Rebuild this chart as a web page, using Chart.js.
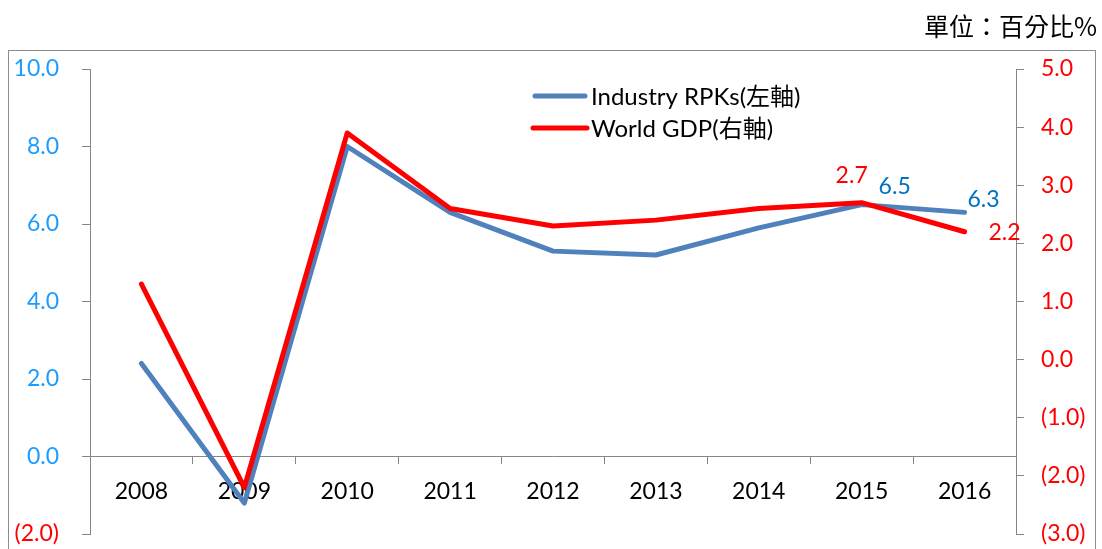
<!DOCTYPE html>
<html>
<head>
<meta charset="utf-8">
<script src="https://cdn.jsdelivr.net/npm/chart.js@4.4.1/dist/chart.umd.min.js"></script>
<style>
  html, body { margin: 0; padding: 0; background: #fff; }
  #wrap { position: relative; width: 1102px; height: 549px; overflow: hidden; }
  #chart { position: absolute; left: 0; top: 0; }
  #unit { position: absolute; right: 5px; top: 13px; font: 25px 'Noto Sans CJK TC', sans-serif; line-height: 1; color: #000; }
</style>
</head>
<body>
<div id="wrap">
  <canvas id="chart" width="1102" height="549"></canvas>
  <div id="unit">單位：百分比%</div>
</div>
<script>
const years = ['2008', '2009', '2010', '2011', '2012', '2013', '2014', '2015', '2016'];
const rpkValues = [2.4, -1.2, 8.0, 6.3, 5.3, 5.2, 5.9, 6.5, 6.3];
const gdpValues = [1.3, -2.2, 3.9, 2.6, 2.3, 2.4, 2.6, 2.7, 2.2];
const seriesNames = ['Industry RPKs(左軸)', 'World GDP(右軸)'];
const labelledYears = ['2015', '2016'];

const BLUE = '#4f81bd';
const RED = '#ff0000';
const AXIS = '#868686';
const FONT = 'Lato, "Noto Sans CJK TC", sans-serif';

const fmt = (v) => (v < 0 ? `(${Math.abs(v).toFixed(1)})` : v.toFixed(1));

// value labels: offset from the point, per series and per labelled year
const labelStyle = [
  { color: '#0070c0', offsets: [[33, -18], [19, -13]] },
  { color: RED, offsets: [[-10, -27], [40, 1]] }
];

// fixed axis sizes so the plot box sits where it should
const fixWidth = (w) => (s) => {
  s.width = w;
  s.paddingTop = 0;
  s.paddingBottom = 0;
};

const frame = {
  id: 'frame',
  beforeDraw(chart) {
    const { ctx } = chart;
    ctx.save();
    ctx.strokeStyle = '#8c8c8c';
    ctx.lineWidth = 1;
    ctx.strokeRect(8.5, 50.5, 1087, 600);
    ctx.restore();
  }
};

const legendBox = {
  id: 'legendBox',
  afterDraw(chart) {
    const { ctx } = chart;
    const rows = [
      { ds: chart.data.datasets.find((d) => d.label === seriesNames[0]), y: 96, x0: 535, x1: 585 },
      { ds: chart.data.datasets.find((d) => d.label === seriesNames[1]), y: 128, x0: 533, x1: 587 }
    ];
    ctx.save();
    ctx.font = `24px ${FONT}`;
    ctx.textBaseline = 'middle';
    ctx.fillStyle = '#000';
    rows.forEach((r) => {
      ctx.strokeStyle = r.ds.borderColor;
      ctx.lineWidth = r.ds.borderWidth;
      ctx.lineCap = 'round';
      ctx.beginPath();
      ctx.moveTo(r.x0, r.y);
      ctx.lineTo(r.x1, r.y);
      ctx.stroke();
      ctx.fillText(r.ds.label, 591, r.y + 1);
    });
    ctx.restore();
  }
};

const valueLabels = {
  id: 'valueLabels',
  afterDatasetsDraw(chart) {
    const { ctx } = chart;
    ctx.save();
    ctx.font = `23px ${FONT}`;
    ctx.textAlign = 'center';
    ctx.textBaseline = 'middle';
    chart.data.datasets.forEach((ds, di) => {
      const meta = chart.getDatasetMeta(di);
      const style = labelStyle[ds.seriesIndex];
      labelledYears.forEach((yr, k) => {
        const i = years.indexOf(yr);
        const pt = meta.data[i];
        ctx.fillStyle = style.color;
        ctx.fillText(ds.data[i].toFixed(1), pt.x + style.offsets[k][0], pt.y + style.offsets[k][1]);
      });
    });
    ctx.restore();
  }
};

new Chart(document.getElementById('chart'), {
  type: 'line',
  data: {
    labels: years,
    datasets: [
      {
        label: seriesNames[1],
        seriesIndex: 1,
        data: gdpValues,
        yAxisID: 'y1',
        borderColor: RED,
        borderWidth: 5,
        pointRadius: 0,
        tension: 0,
        borderCapStyle: 'round',
        borderJoinStyle: 'round'
      },
      {
        label: seriesNames[0],
        seriesIndex: 0,
        data: rpkValues,
        yAxisID: 'y',
        borderColor: BLUE,
        borderWidth: 5,
        pointRadius: 0,
        tension: 0,
        borderCapStyle: 'round',
        borderJoinStyle: 'round'
      }
    ]
  },
  options: {
    responsive: false,
    animation: false,
    devicePixelRatio: 1,
    layout: { padding: { left: 0, right: 0, top: 69, bottom: 15 } },
    plugins: { legend: { display: false }, tooltip: { enabled: false } },
    scales: {
      x: {
        position: { y: 0 },
        offset: true,
        afterFit: (s) => { s.height = 0; s.paddingTop = 0; s.paddingBottom = 0; },
        grid: { offset: true, drawOnChartArea: false, color: AXIS, tickLength: 7 },
        border: { color: AXIS, width: 1 },
        ticks: { color: '#000', font: { family: FONT, size: 23 }, padding: 14, maxRotation: 0 }
      },
      y: {
        position: 'left',
        min: -2,
        max: 10,
        afterFit: fixWidth(90),
        grid: { drawOnChartArea: false, color: AXIS, tickLength: 8 },
        border: { color: AXIS, width: 1 },
        ticks: {
          stepSize: 2,
          padding: 23,
          font: { family: FONT, size: 23 },
          color: (c) => (c.tick.value < 0 ? RED : '#1c9cff'),
          callback: (v) => fmt(v)
        }
      },
      y1: {
        position: 'right',
        min: -3,
        max: 5,
        afterFit: fixWidth(86),
        grid: { drawOnChartArea: false, color: AXIS, tickLength: 8 },
        border: { color: AXIS, width: 1 },
        ticks: {
          stepSize: 1,
          padding: 17,
          font: { family: FONT, size: 23 },
          color: RED,
          callback: (v) => fmt(v)
        }
      }
    }
  },
  plugins: [frame, legendBox, valueLabels]
});
</script>
</body>
</html>
